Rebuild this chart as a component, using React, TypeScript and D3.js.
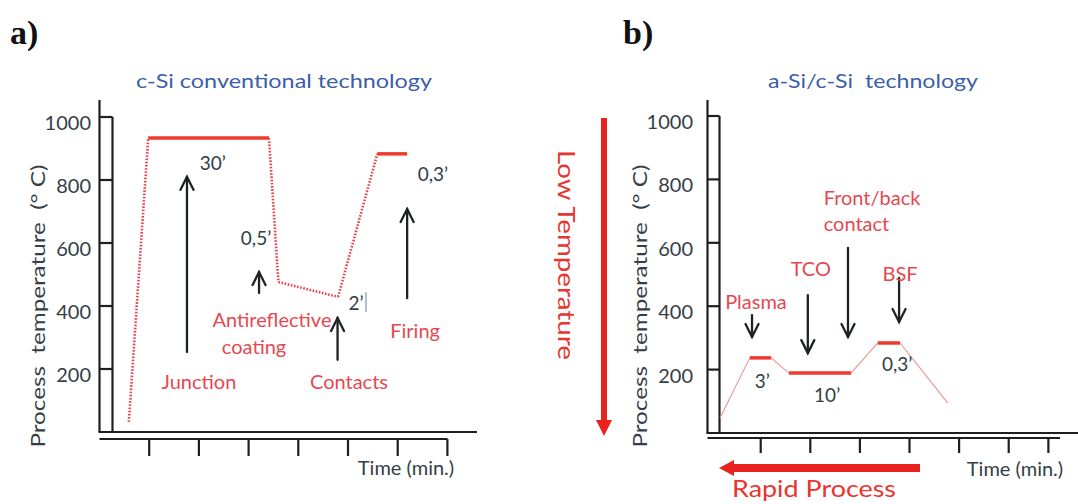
import React from "react";
import * as d3 from "d3";

// ---------- data ----------
const yTicks = [200, 400, 600, 800, 1000];
const xTicksA = [1, 2, 3, 4, 5, 6, 7];
const xTicksB = [1, 2, 3, 4, 5, 6, 6.8];

// panel a: conventional c-Si thermal profile
const profileATime = [0.59, 0.98, 3.41, 3.6, 4.8, 5.59, 6.19];
const profileATemp = [32, 933, 933, 476, 429, 883, 883];
const profileAStyle = ["dot", "solid", "dot", "dot", "dot", "solid"];

// panel b: a-Si/c-Si thermal profile
const profileBTime = [0.18, 0.78, 1.21, 1.57, 2.82, 3.36, 3.81, 4.77];
const profileBTemp = [47, 237, 237, 189, 189, 284, 284, 95];
const profileBStyle = ["thin", "solid", "thin", "solid", "thin", "solid", "thin"];

// annotations: [text, t, temp, anchor, kind]
const labelsA = [
  ["30\u2019", 2.28, 857, "middle", "dark"],
  ["0,5\u2019", 3.15, 619, "middle", "dark"],
  ["2\u2019", 5.16, 410, "middle", "dark"],
  ["0,3\u2019", 6.71, 822, "middle", "dark"],
  ["Antireflective", 3.47, 359, "middle", "red"],
  ["coating", 3.11, 273, "middle", "red"],
  ["Junction", 2.0, 162, "middle", "red"],
  ["Contacts", 5.02, 162, "middle", "red"],
  ["Firing", 6.35, 324, "middle", "red"],
];
// arrows: [t, tempFrom, tempTo]
const arrowsA = [
  [1.76, 254, 810],
  [3.21, 441, 508],
  [4.79, 229, 362],
  [6.19, 425, 708],
];

const labelsB = [
  ["Plasma", 0.905, 417, "middle", "red"],
  ["TCO", 2.01, 520, "middle", "red"],
  ["Front/back", 2.27, 744, "start", "red"],
  ["contact", 2.27, 662, "start", "red"],
  ["BSF", 3.81, 506, "middle", "red"],
  ["3\u2019", 1.03, 167, "middle", "dark"],
  ["10\u2019", 2.34, 120, "middle", "dark"],
  ["0,3\u2019", 3.75, 218, "middle", "dark"],
];
const arrowsB = [
  [0.825, 372, 303],
  [1.95, 435, 252],
  [2.76, 584, 303],
  [3.79, 489, 350],
];

// ---------- styles ----------
const FONT = "Lato, 'Open Sans', sans-serif";
const DARK = "#343e47";
const RED_TXT = "#e6484f";
const RED_LINE = "#ee3a2c";
const BLUE = "#3c5ea9";
const AXIS = "#1f1f1f";

function Arrow({ x, y1, y2 }) {
  const dir = y2 < y1 ? 1 : -1; // tip is at y2
  const hl = 13;
  const hw = 6.5;
  return (
    <g stroke="#1e2226" strokeWidth={2.3} fill="none" strokeLinecap="round">
      <line x1={x} y1={y1} x2={x} y2={y2} />
      <polyline
        points={`${x - hw},${y2 + dir * hl} ${x},${y2} ${x + hw},${y2 + dir * hl}`}
        strokeLinejoin="miter"
      />
    </g>
  );
}

function Panel({ x, y, xTicks, times, temps, styles, labels, arrows, outerX, innerX, topY, axisEnd, barEnd, barY, tickBottom, tickLabelX, extraMark }) {
  const pts = times.map((t, i) => [x(t), y(temps[i])]);
  const zeroY = y(0);
  return (
    <g>
      {/* y axis ladder */}
      <g stroke={AXIS} strokeWidth={2.2} fill="none">
        <line x1={outerX} y1={topY} x2={outerX} y2={zeroY} />
        <line x1={innerX} y1={y(1000)} x2={innerX} y2={zeroY} />
        {yTicks.map((v) => (
          <line key={v} x1={outerX} x2={innerX} y1={y(v)} y2={y(v)} />
        ))}
        <line x1={outerX - 1} y1={zeroY} x2={axisEnd} y2={zeroY} />
        <line x1={outerX} y1={barY} x2={barEnd} y2={barY} />
        {xTicks.map((t) => (
          <line key={t} x1={x(t)} x2={x(t)} y1={barY} y2={tickBottom} />
        ))}
      </g>
      {yTicks.map((v) => (
        <text key={v} x={tickLabelX} y={y(v) + 5} textAnchor="end" dominantBaseline="central" fontFamily={FONT} fontSize={20} fill={DARK}>
          {v}
        </text>
      ))}
      {/* profile */}
      {styles.map((s, i) => {
        const [x1, y1] = pts[i];
        const [x2, y2] = pts[i + 1];
        if (s === "solid")
          return <line key={i} x1={x1} y1={y1} x2={x2} y2={y2} stroke={RED_LINE} strokeWidth={3.5} />;
        if (s === "dot")
          return <line key={i} x1={x1} y1={y1} x2={x2} y2={y2} stroke="#e8434c" strokeWidth={2.6} strokeDasharray="1.6,1.6" />;
        return <line key={i} x1={x1} y1={y1} x2={x2} y2={y2} stroke="#ef8e95" strokeWidth={1.1} />;
      })}
      {arrows.map(([t, a, b], i) => (
        <Arrow key={i} x={x(t)} y1={y(a)} y2={y(b)} />
      ))}
      {labels.map(([txt, t, v, anchor, kind], i) => (
        <text
          key={i}
          x={x(t)}
          y={y(v)}
          textAnchor={anchor}
          dominantBaseline="central"
          fontFamily={FONT}
          fontSize={kind === "red" ? 20 : 19}
          fill={kind === "red" ? RED_TXT : DARK}
        >
          {txt}
        </text>
      ))}
      {extraMark}
    </g>
  );
}

export default function App() {
  const xA = d3.scaleLinear().domain([0, 7]).range([99.5, 447.4]);
  const yA = d3.scaleLinear().domain([0, 1000]).range([432, 117]);
  const xB = d3.scaleLinear().domain([0, 7]).range([711.1, 1058.3]);
  const yB = d3.scaleLinear().domain([0, 1000]).range([433, 116]);

  return (
    <svg width={1078} height={504} style={{ position: "absolute", left: 0, top: 0, background: "#fff" }}>
      <rect width={1078} height={504} fill="#fff" />
      {/* panel letters */}
      <text x={10} y={44} fontFamily="'Liberation Serif', serif" fontWeight="bold" fontSize={34} fill="#111">a)</text>
      <text x={623} y={44} fontFamily="'Liberation Serif', serif" fontWeight="bold" fontSize={34} fill="#111">b)</text>

      {/* titles */}
      <text x={284} y={80} textAnchor="middle" dominantBaseline="central" fontFamily={FONT} fontSize={19} fill={BLUE} textLength={296} lengthAdjust="spacingAndGlyphs">
        c-Si conventional technology
      </text>
      <text x={873} y={80} textAnchor="middle" dominantBaseline="central" fontFamily={FONT} fontSize={19} fill={BLUE} textLength={210} lengthAdjust="spacingAndGlyphs" style={{ whiteSpace: "pre" }}>
        {"a-Si/c-Si  technology"}
      </text>

      {/* y labels */}
      <text transform="translate(37,306) rotate(-90)" textAnchor="middle" dominantBaseline="central" fontFamily={FONT} fontSize={20} fill={DARK} textLength={283} lengthAdjust="spacingAndGlyphs" style={{ whiteSpace: "pre" }}>
        {"Process  temperature  (\u00b0 C)"}
      </text>
      <text transform="translate(639,306) rotate(-90)" textAnchor="middle" dominantBaseline="central" fontFamily={FONT} fontSize={20} fill={DARK} textLength={283} lengthAdjust="spacingAndGlyphs" style={{ whiteSpace: "pre" }}>
        {"Process  temperature  (\u00b0 C)"}
      </text>

      {/* x labels */}
      <text x={406} y={467} textAnchor="middle" dominantBaseline="central" fontFamily={FONT} fontSize={20} fill={DARK}>Time (min.)</text>
      <text x={1015} y={468} textAnchor="middle" dominantBaseline="central" fontFamily={FONT} fontSize={20} fill={DARK}>Time (min.)</text>

      <Panel
        x={xA} y={yA} xTicks={xTicksA}
        times={profileATime} temps={profileATemp} styles={profileAStyle}
        labels={labelsA} arrows={arrowsA}
        outerX={99.5} innerX={112.5} topY={100} axisEnd={477} barEnd={447.4} barY={439} tickBottom={456} tickLabelX={91}
        extraMark={<line x1={366} x2={366} y1={yA(444)} y2={yA(381)} stroke="#7f93b3" strokeWidth={1.2} />}
      />
      <Panel
        x={xB} y={yB} xTicks={xTicksB}
        times={profileBTime} temps={profileBTemp} styles={profileBStyle}
        labels={labelsB} arrows={arrowsB}
        outerX={707.5} innerX={719.5} topY={100} axisEnd={1078} barEnd={1060} barY={438} tickBottom={453} tickLabelX={693}
      />

      {/* Low Temperature arrow */}
      <g fill="#e8231f">
        <rect x={601} y={118} width={6} height={304} />
        <polygon points="596,420 612,420 604,436" />
      </g>
      <text transform="translate(567,255) rotate(90)" textAnchor="middle" dominantBaseline="central" fontFamily={FONT} fontSize={23} fill="#e8352f" textLength={210} lengthAdjust="spacingAndGlyphs">
        Low Temperature
      </text>

      {/* Rapid Process arrow */}
      <g fill="#e8231f">
        <rect x={733} y={464} width={187} height={8} />
        <polygon points="734,460 734,476 719,468" />
      </g>
      <text x={814} y={497} textAnchor="middle" fontFamily={FONT} fontSize={23} fill="#e8352f" textLength={164} lengthAdjust="spacingAndGlyphs">
        Rapid Process
      </text>
    </svg>
  );
}
